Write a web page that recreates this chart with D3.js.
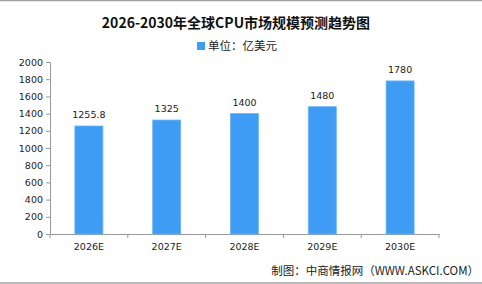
<!DOCTYPE html>
<html>
<head>
<meta charset="utf-8">
<script src="https://cdn.jsdelivr.net/npm/d3@7"></script>
<style>
  body { margin: 0; background: #fff; }
  svg { display: block; }
</style>
</head>
<body>
<script>
// 数据
const years = ["2026E", "2027E", "2028E", "2029E", "2030E"];
const values = [1255.8, 1325, 1400, 1480, 1780];
const valueLabels = ["1255.8", "1325", "1400", "1480", "1780"];
const yTicks = [0, 200, 400, 600, 800, 1000, 1200, 1400, 1600, 1800, 2000];

const width = 482, height = 284;
const margin = { left: 50, right: 43, top: 62, bottom: 50 };

const svg = d3.select("body").append("svg")
  .attr("width", width)
  .attr("height", height);

// 上下边框
svg.append("line").attr("x1", 0).attr("x2", width).attr("y1", 0.5).attr("y2", 0.5)
  .attr("stroke", "#a0a0a0").attr("stroke-width", 1.5);
svg.append("line").attr("x1", 0).attr("x2", width).attr("y1", 283).attr("y2", 283)
  .attr("stroke", "#a0a0a0").attr("stroke-width", 1.5);

// 标题
svg.append("text")
  .attr("x", 236).attr("y", 28)
  .attr("text-anchor", "middle")
  .style("font-family", "'Noto Sans CJK SC', sans-serif")
  .style("font-weight", "bold")
  .style("font-size", "14px")
  .attr("fill", "#111")
  .text("2026-2030年全球CPU市场规模预测趋势图");

// 图例
svg.append("rect").attr("x", 197).attr("y", 42).attr("width", 8).attr("height", 8)
  .attr("fill", "#3f9cf5");
svg.append("text")
  .attr("x", 208).attr("y", 50)
  .style("font-family", "'Noto Sans CJK SC', sans-serif")
  .style("font-size", "11.5px")
  .attr("fill", "#222")
  .text("单位：亿美元");

const x = d3.scaleBand()
  .domain(years)
  .range([margin.left, width - margin.right])
  .paddingInner(0.64)
  .paddingOuter(0.32);

const y = d3.scaleLinear()
  .domain([0, 2000])
  .range([height - margin.bottom, margin.top]);

// y 轴
const yAxis = svg.append("g")
  .attr("transform", `translate(${margin.left},0)`)
  .call(d3.axisLeft(y).tickValues(yTicks).tickFormat(d3.format("d")).tickSize(4).tickPadding(3));
yAxis.select(".domain").attr("stroke", "#999");
yAxis.selectAll(".tick line").attr("stroke", "#999");
yAxis.selectAll("text")
  .style("font-family", "'DejaVu Sans', sans-serif")
  .style("font-size", "9.5px")
  .attr("fill", "#222");

// x 轴
const xAxis = svg.append("g")
  .attr("transform", `translate(0,${height - margin.bottom})`)
  .call(d3.axisBottom(x).tickSize(0).tickPadding(9));
xAxis.select(".domain").attr("stroke", "#999");
xAxis.selectAll("text")
  .style("font-family", "'DejaVu Sans', sans-serif")
  .style("font-size", "9.5px")
  .attr("fill", "#222");

// x 轴分隔刻度
const edges = d3.range(years.length + 1).map(i => margin.left + i * (width - margin.right - margin.left) / years.length);
svg.append("g").selectAll("line")
  .data(edges)
  .enter().append("line")
  .attr("x1", d => d).attr("x2", d => d)
  .attr("y1", height - margin.bottom).attr("y2", height - margin.bottom + 4)
  .attr("stroke", "#999");

// 柱子
svg.append("g").selectAll("rect")
  .data(values)
  .enter().append("rect")
  .attr("x", (d, i) => x(years[i]))
  .attr("y", d => y(d))
  .attr("width", x.bandwidth())
  .attr("height", d => y(0) - y(d))
  .attr("fill", "#3f9cf5")
  .attr("stroke", "#6cb3f7")
  .attr("stroke-width", 0.8);

// 数值标签
svg.append("g").selectAll("text")
  .data(values)
  .enter().append("text")
  .attr("x", (d, i) => x(years[i]) + x.bandwidth() / 2)
  .attr("y", d => y(d) - 8)
  .attr("text-anchor", "middle")
  .style("font-family", "'DejaVu Sans', sans-serif")
  .style("font-size", "9.5px")
  .attr("fill", "#222")
  .text((d, i) => valueLabels[i]);

// 来源
svg.append("text")
  .attr("x", 479).attr("y", 275)
  .attr("text-anchor", "end")
  .style("font-family", "'Noto Sans CJK SC', sans-serif")
  .style("font-size", "11.5px")
  .attr("fill", "#222")
  .text("制图：中商情报网（WWW.ASKCI.COM）");
</script>
</body>
</html>
